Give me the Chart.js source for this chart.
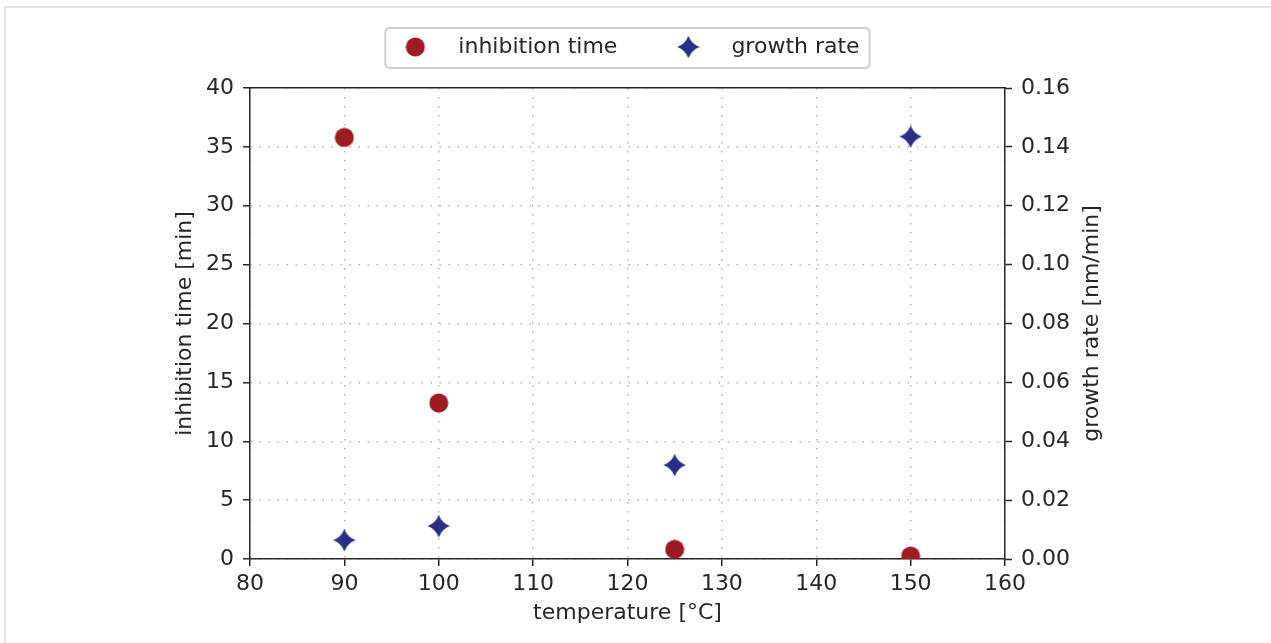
<!DOCTYPE html>
<html>
<head>
<meta charset="utf-8">
<script src="https://cdn.jsdelivr.net/npm/chart.js@4/dist/chart.umd.min.js"></script>
<style>
  html, body { margin: 0; padding: 0; background: #ffffff; overflow: hidden; }
  #frame { position: absolute; left: 4px; top: 6px; width: 3000px; height: 3000px;
           border-top: 2px solid #e4e4e4; border-left: 2px solid #e4e4e4; }
  #wrap { position: absolute; left: 0; top: 0; width: 1271px; height: 643px; }
</style>
</head>
<body>
<div id="frame"></div>
<div id="wrap"><canvas id="c" width="1271" height="643"></canvas></div>
<script>
// ---- data ----
const temperatures = [90, 100, 125, 150];
const inhibitionTime = [35.8, 13.25, 0.82, 0.25];
const growthRate = [0.0064, 0.0112, 0.0319, 0.1435];
const xTicks = [80, 90, 100, 110, 120, 130, 140, 150, 160];
const leftTicks = [0, 5, 10, 15, 20, 25, 30, 35, 40];
const rightTicks = [0, 0.02, 0.04, 0.06, 0.08, 0.10, 0.12, 0.14, 0.16];
const seriesNames = ['inhibition time', 'growth rate'];
const axisTitles = { x: 'temperature [°C]', left: 'inhibition time [min]', right: 'growth rate [nm/min]' };

// ---- marker images ----
const RED = '#9e1c21';
const BLUE = '#2a2f86';
function circleMarker() {
  const c = document.createElement('canvas'); c.width = 20; c.height = 20;
  const g = c.getContext('2d');
  g.fillStyle = RED; g.beginPath(); g.arc(10, 10, 9.5, 0, Math.PI * 2); g.fill();
  return c;
}
function starMarker() {
  const c = document.createElement('canvas'); c.width = 24; c.height = 24;
  const g = c.getContext('2d');
  const cx = 12, cy = 12, r = 11.2, k = 0.27 * r;
  g.fillStyle = BLUE; g.beginPath();
  g.moveTo(cx, cy - r);
  g.quadraticCurveTo(cx + k, cy - k, cx + r, cy);
  g.quadraticCurveTo(cx + k, cy + k, cx, cy + r);
  g.quadraticCurveTo(cx - k, cy + k, cx - r, cy);
  g.quadraticCurveTo(cx - k, cy - k, cx, cy - r);
  g.closePath(); g.fill();
  return c;
}
const circ = circleMarker();
const star = starMarker();

const FONT = "'DejaVu Sans', sans-serif";
const TXT = '#262626';
const AX = '#262626';

const legendFrame = {
  id: 'legendFrame',
  afterDraw(chart) {
    const lg = chart.legend;
    if (!lg || !lg.legendHitBoxes || lg.legendHitBoxes.length < 2) return;
    const hb = lg.legendHitBoxes;
    const ctx = chart.ctx;
    const cy = hb[0].top + hb[0].height / 2;
    const x0 = hb[0].left + 2, x1 = hb[1].left + hb[1].width + 10;
    const y0 = cy - 19, y1 = cy + 21, r = 4;
    ctx.save();
    ctx.strokeStyle = '#cfcfcf'; ctx.lineWidth = 2;
    ctx.beginPath();
    ctx.roundRect(x0, y0, x1 - x0, y1 - y0, r);
    ctx.stroke();
    ctx.restore();
  }
};

// right axis title reads bottom-to-top like the left one
const rightTitle = {
  id: 'rightTitle',
  afterDraw(chart) {
    const s = chart.scales.y2;
    const ctx = chart.ctx;
    ctx.save();
    ctx.translate(s.right - 13.2, (chart.chartArea.top + chart.chartArea.bottom) / 2);
    ctx.rotate(-Math.PI / 2);
    ctx.font = "22px " + FONT;
    ctx.fillStyle = TXT;
    ctx.textAlign = 'center';
    ctx.textBaseline = 'middle';
    ctx.fillText(axisTitles.right, 0, 0);
    ctx.restore();
  }
};

new Chart(document.getElementById('c'), {
  type: 'scatter',
  data: {
    datasets: [
      {
        label: seriesNames[0],
        data: temperatures.map((t, i) => ({ x: t, y: inhibitionTime[i] })),
        yAxisID: 'y',
        pointStyle: circ,
        backgroundColor: RED, borderColor: RED,
        clip: 0
      },
      {
        label: seriesNames[1],
        data: temperatures.map((t, i) => ({ x: t, y: growthRate[i] })),
        yAxisID: 'y2',
        pointStyle: star,
        backgroundColor: BLUE, borderColor: BLUE,
        clip: 0
      }
    ]
  },
  options: {
    responsive: false,
    devicePixelRatio: 1,
    animation: false,
    layout: { padding: { left: 138, right: 166, top: -3, bottom: 18 } },
    plugins: {
      tooltip: { enabled: false },
      legend: {
        position: 'top',
        align: 'center',
        labels: {
          usePointStyle: true,
          pointStyleWidth: 64,
          padding: 39,
          color: TXT,
          font: { family: FONT, size: 22 }
        }
      }
    },
    scales: {
      x: {
        type: 'linear', position: 'bottom', min: 80, max: 160,
        afterBuildTicks: s => { s.ticks = xTicks.map(v => ({ value: v })); },
        afterFit: s => { s.height = 66; },
        ticks: { color: TXT, font: { family: FONT, size: 22 }, padding: 5, maxRotation: 0 },
        grid: { color: '#b5b5b5', lineWidth: 1.5, tickLength: 7, tickColor: AX, tickWidth: 1.5, tickBorderDash: [] },
        border: { color: AX, width: 1.5, dash: [1.5, 7.5] },
        title: { display: true, text: axisTitles.x, color: TXT, font: { family: FONT, size: 22 }, padding: { top: 0, bottom: -1 } }
      },
      xTop: {
        type: 'linear', position: 'top', min: 80, max: 160,
        afterFit: s => { s.height = 20; },
        ticks: { display: false },
        grid: { display: false },
        border: { display: true, color: AX, width: 1.5 }
      },
      y: {
        type: 'linear', position: 'left', min: 0, max: 40,
        afterBuildTicks: s => { s.ticks = leftTicks.map(v => ({ value: v })); },
        afterFit: s => { s.width = 112; },
        ticks: { color: TXT, font: { family: FONT, size: 22 }, padding: 9 },
        grid: { color: '#b5b5b5', lineWidth: 1.5, tickLength: 7, tickColor: AX, tickWidth: 1.5, tickBorderDash: [] },
        border: { color: AX, width: 1.5, dash: [1.5, 7.5] },
        title: { display: true, text: axisTitles.left, color: TXT, font: { family: FONT, size: 22 }, padding: { top: 33.8, bottom: 0 } }
      },
      y2: {
        type: 'linear', position: 'right', min: 0, max: 0.16,
        afterBuildTicks: s => { s.ticks = rightTicks.map(v => ({ value: v })); },
        afterFit: s => { s.width = 100; },
        ticks: { color: TXT, font: { family: FONT, size: 22 }, padding: 9, callback: v => Number(v).toFixed(2) },
        grid: { drawOnChartArea: false, tickLength: 7, tickColor: AX, tickWidth: 1.5, color: AX },
        border: { color: AX, width: 1.5 },
        title: { display: false }
      }
    }
  },
  plugins: [legendFrame, rightTitle]
});
</script>
</body>
</html>
